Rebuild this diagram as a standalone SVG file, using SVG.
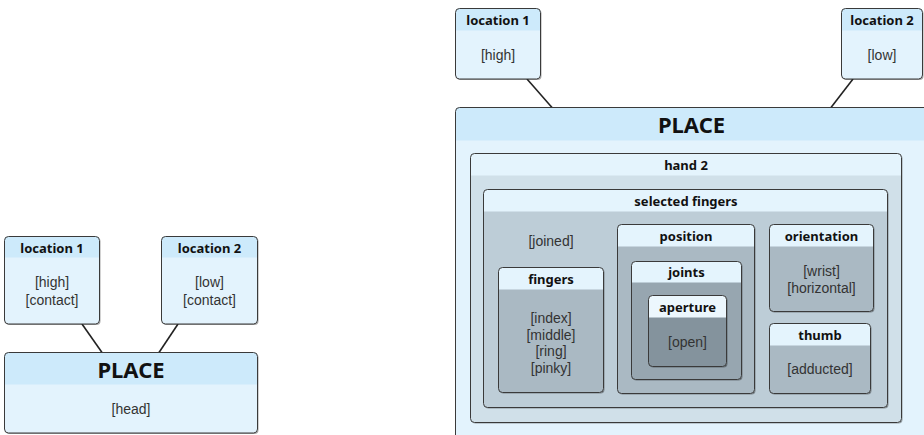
<svg xmlns="http://www.w3.org/2000/svg" width="924" height="435" viewBox="0 0 924 435">
  <style>
    .hdr { font-family: "Noto Sans", "Open Sans", sans-serif; font-weight: bold; font-size: 13px; fill: #111; text-anchor: middle; }
    .big { font-family: "Noto Sans", "Open Sans", sans-serif; font-weight: bold; font-size: 22px; fill: #111; text-anchor: middle; }
    .txt { font-family: "Liberation Sans", Arial, sans-serif; font-size: 14px; fill: #333; text-anchor: middle; }
    .frame { fill: none; stroke: #3a3a3a; stroke-width: 1; }
    .c0b { fill: #e3f3fd; } .c0h { fill: #cdeafb; }
    .lh { fill: #e4f4fd; }
    .c1b { fill: #d0e0e9; }
    .c2b { fill: #bdcdd7; }
    .c3b { fill: #aab9c3; }
    .c4b { fill: #97a6b0; }
    .c5b { fill: #84939d; } .c5h { fill: #ecf7fd; }
    .edge { stroke: #222; stroke-width: 1.6; fill: none; }
  </style>
  <defs>
    <filter id="shadow" x="-5%" y="-5%" width="110%" height="110%">
      <feDropShadow dx="1" dy="1" stdDeviation="0.6" flood-color="#000" flood-opacity="0.35"/>
    </filter>
  </defs>

  <rect width="924" height="435" fill="#ffffff"/>

  <!-- connectors -->
  <g id="connectors">
    <line class="edge" x1="82" y1="324" x2="102" y2="352.5"/>
    <line class="edge" x1="178" y1="324" x2="159" y2="352.5"/>
    <line class="edge" x1="527" y1="79" x2="552" y2="107.5"/>
    <line class="edge" x1="853" y1="79" x2="831" y2="107.5"/>
  </g>

  <!-- left sign -->
  <g id="left-location-1">
    <rect class="c0b" x="4.5" y="236.5" width="95" height="87.5" rx="4" filter="url(#shadow)"/>
    <path class="c0h" d="M4.5,257.5 V240.5 Q4.5,236.5 8.5,236.5 H95.5 Q99.5,236.5 99.5,240.5 V257.5 Z"/>
    <rect class="frame" x="4.5" y="236.5" width="95" height="87.5" rx="4"/>
    <text class="hdr" x="52" y="252.5">location 1</text>
    <text class="txt" x="52" y="287">[high]</text>
    <text class="txt" x="52" y="305">[contact]</text>
  </g>
  <g id="left-location-2">
    <rect class="c0b" x="161.5" y="236.5" width="96" height="87.5" rx="4" filter="url(#shadow)"/>
    <path class="c0h" d="M161.5,257.5 V240.5 Q161.5,236.5 165.5,236.5 H253.5 Q257.5,236.5 257.5,240.5 V257.5 Z"/>
    <rect class="frame" x="161.5" y="236.5" width="96" height="87.5" rx="4"/>
    <text class="hdr" x="209.5" y="252.5">location 2</text>
    <text class="txt" x="209.5" y="287">[low]</text>
    <text class="txt" x="209.5" y="305">[contact]</text>
  </g>
  <g id="left-place">
    <rect class="c0b" x="4.5" y="352.5" width="253" height="80.5" rx="4" filter="url(#shadow)"/>
    <path class="c0h" d="M4.5,384.5 V356.5 Q4.5,352.5 8.5,352.5 H253.5 Q257.5,352.5 257.5,356.5 V384.5 Z"/>
    <rect class="frame" x="4.5" y="352.5" width="253" height="80.5" rx="4"/>
    <text class="big" x="131" y="378">PLACE</text>
    <text class="txt" x="131" y="414">[head]</text>
  </g>

  <!-- right sign -->
  <g id="right-location-1">
    <rect class="c0b" x="455.5" y="8.5" width="85" height="70.5" rx="4" filter="url(#shadow)"/>
    <path class="c0h" d="M455.5,30.5 V12.5 Q455.5,8.5 459.5,8.5 H536.5 Q540.5,8.5 540.5,12.5 V30.5 Z"/>
    <rect class="frame" x="455.5" y="8.5" width="85" height="70.5" rx="4"/>
    <text class="hdr" x="498" y="24.5">location 1</text>
    <text class="txt" x="498" y="59.5">[high]</text>
  </g>
  <g id="right-location-2">
    <rect class="c0b" x="841.5" y="8.5" width="81" height="70.5" rx="4" filter="url(#shadow)"/>
    <path class="c0h" d="M841.5,30.5 V12.5 Q841.5,8.5 845.5,8.5 H918.5 Q922.5,8.5 922.5,12.5 V30.5 Z"/>
    <rect class="frame" x="841.5" y="8.5" width="81" height="70.5" rx="4"/>
    <text class="hdr" x="882" y="24.5">location 2</text>
    <text class="txt" x="882" y="59.5">[low]</text>
  </g>

  <g id="right-place">
    <rect class="c0b" x="455.5" y="107.5" width="473" height="340" rx="4"/>
    <path class="c0h" d="M455.5,140.5 V111.5 Q455.5,107.5 459.5,107.5 H924.5 Q928.5,107.5 928.5,111.5 V140.5 Z"/>
    <rect class="frame" x="455.5" y="107.5" width="473" height="340" rx="4"/>
    <text class="big" x="691.5" y="133">PLACE</text>

    <g id="hand-2">
      <rect class="c1b" x="470.5" y="153.5" width="431" height="269" rx="4" filter="url(#shadow)"/>
      <path class="lh" d="M470.5,175.5 V157.5 Q470.5,153.5 474.5,153.5 H897.5 Q901.5,153.5 901.5,157.5 V175.5 Z"/>
      <rect class="frame" x="470.5" y="153.5" width="431" height="269" rx="4"/>
      <text class="hdr" x="686" y="169.5">hand 2</text>

      <g id="selected-fingers">
        <rect class="c2b" x="483.5" y="189.5" width="404" height="218" rx="4" filter="url(#shadow)"/>
        <path class="lh" d="M483.5,211.5 V193.5 Q483.5,189.5 487.5,189.5 H883.5 Q887.5,189.5 887.5,193.5 V211.5 Z"/>
        <rect class="frame" x="483.5" y="189.5" width="404" height="218" rx="4"/>
        <text class="hdr" x="686" y="205.5">selected fingers</text>
        <text class="txt" x="551" y="246">[joined]</text>

        <g id="fingers">
          <rect class="c3b" x="498.5" y="267.5" width="105" height="125" rx="4" filter="url(#shadow)"/>
          <path class="lh" d="M498.5,289.5 V271.5 Q498.5,267.5 502.5,267.5 H599.5 Q603.5,267.5 603.5,271.5 V289.5 Z"/>
          <rect class="frame" x="498.5" y="267.5" width="105" height="125" rx="4"/>
          <text class="hdr" x="551" y="283.5">fingers</text>
          <text class="txt" x="551" y="323">[index]</text>
          <text class="txt" x="551" y="339.5">[middle]</text>
          <text class="txt" x="551" y="356">[ring]</text>
          <text class="txt" x="551" y="372.5">[pinky]</text>
        </g>

        <g id="position">
          <rect class="c3b" x="617.5" y="224.5" width="137" height="169" rx="4" filter="url(#shadow)"/>
          <path class="lh" d="M617.5,246.5 V228.5 Q617.5,224.5 621.5,224.5 H750.5 Q754.5,224.5 754.5,228.5 V246.5 Z"/>
          <rect class="frame" x="617.5" y="224.5" width="137" height="169" rx="4"/>
          <text class="hdr" x="686" y="240.5">position</text>

          <g id="joints">
            <rect class="c4b" x="631.5" y="261.5" width="110" height="118" rx="4" filter="url(#shadow)"/>
            <path class="lh" d="M631.5,282.5 V265.5 Q631.5,261.5 635.5,261.5 H737.5 Q741.5,261.5 741.5,265.5 V282.5 Z"/>
            <rect class="frame" x="631.5" y="261.5" width="110" height="118" rx="4"/>
            <text class="hdr" x="686.5" y="276.5">joints</text>

            <g id="aperture">
              <rect class="c5b" x="648.5" y="295.5" width="78" height="71" rx="4" filter="url(#shadow)"/>
              <path class="c5h" d="M648.5,317.5 V299.5 Q648.5,295.5 652.5,295.5 H722.5 Q726.5,295.5 726.5,299.5 V317.5 Z"/>
              <rect class="frame" x="648.5" y="295.5" width="78" height="71" rx="4"/>
              <text class="hdr" x="687.5" y="311.5">aperture</text>
              <text class="txt" x="687.5" y="347">[open]</text>
            </g>
          </g>
        </g>

        <g id="orientation">
          <rect class="c3b" x="769.5" y="224.5" width="104" height="87" rx="4" filter="url(#shadow)"/>
          <path class="lh" d="M769.5,246.5 V228.5 Q769.5,224.5 773.5,224.5 H869.5 Q873.5,224.5 873.5,228.5 V246.5 Z"/>
          <rect class="frame" x="769.5" y="224.5" width="104" height="87" rx="4"/>
          <text class="hdr" x="821.5" y="240.5">orientation</text>
          <text class="txt" x="821.5" y="276">[wrist]</text>
          <text class="txt" x="821.5" y="293">[horizontal]</text>
        </g>

        <g id="thumb">
          <rect class="c3b" x="769.5" y="323.5" width="101" height="70" rx="4" filter="url(#shadow)"/>
          <path class="lh" d="M769.5,345.5 V327.5 Q769.5,323.5 773.5,323.5 H866.5 Q870.5,323.5 870.5,327.5 V345.5 Z"/>
          <rect class="frame" x="769.5" y="323.5" width="101" height="70" rx="4"/>
          <text class="hdr" x="820" y="339.5">thumb</text>
          <text class="txt" x="820" y="374">[adducted]</text>
        </g>
      </g>
    </g>
  </g>
</svg>
